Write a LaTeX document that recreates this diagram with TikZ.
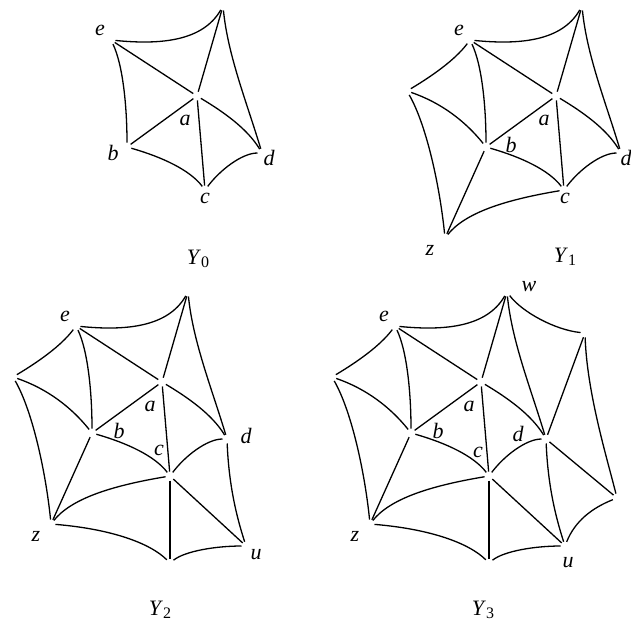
\documentclass[tikz,border=0pt]{standalone}
\usepackage{fontspec}
\setmainfont{Liberation Serif}
\usetikzlibrary{positioning}

% panel name with lowered subscript
\newcommand{\ysub}[1]{\textit{Y}\raisebox{-3pt}{\fontsize{16}{16}\selectfont #1}}

% vertices of the biggest complex (Y_1 frame, y points down)
\newcommand{\vertsY}{%
  \coordinate (T)  at (582,6);
  \coordinate (e)  at (470,40);
  \coordinate (a)  at (556,96);
  \coordinate (d)  at (621,153);
  \coordinate (b)  at (486,147);
  \coordinate (c)  at (564,190);
  \coordinate (L)  at (407,91);
  \coordinate (z)  at (445,238);
  \coordinate (u)  at (640,260);
  \coordinate (B)  at (564,277);
  \coordinate (R1) at (660,47);
  \coordinate (R2) at (692,212);
}
% star of a
\newcommand{\coreedges}{%
  \draw[cusp] (e) .. controls +(50,5) and +(-20,35) .. (T);
  \draw[cusp] (e) -- (a);
  \draw[cusp] (T) -- (a);
  \draw[cusp] (T) .. controls +(5,50) and +(-15,-50) .. (d);
  \draw[cusp] (a) .. controls +(25,15) and +(-15,-25) .. (d);
  \draw[cusp] (a) -- (c);
  \draw[cusp] (c) .. controls +(15,-20) and +(-20,0) .. (d);
  \draw[cusp] (e) .. controls +(12,25) and +(0,-40) .. (b);
  \draw[cusp] (a) -- (b);
  \draw[cusp] (b) .. controls +(35,10) and +(-15,-20) .. (c);
}
% star of b
\newcommand{\leftedges}{%
  \draw[cusp] (e) .. controls +(-15,20) and +(25,-15) .. (L);
  \draw[cusp] (L) .. controls +(35,12) and +(-20,-25) .. (b);
  \draw[cusp] (L) .. controls +(20,35) and +(-5,-50) .. (z);
  \draw[cusp] (b) -- (z);
  \draw[cusp] (z) .. controls +(20,-25) and +(-60,10) .. (c);
}
% star of c
\newcommand{\bottomedges}{%
  \draw[cusp] (d) .. controls +(2,50) and +(-8,-25) .. (u);
  \draw[cusp] (c) -- (u);
  \draw[cusp] (c) -- (B);
  \draw[cusp] (z) .. controls +(60,5) and +(-20,-20) .. (B);
  \draw[cusp] (B) .. controls +(15,-12) and +(-30,0) .. (u);
}
% star of d
\newcommand{\rightedges}{%
  \draw[cusp] (T) .. controls +(15,20) and +(-30,-3) .. (R1);
  \draw[cusp] (R1) -- (d);
  \draw[cusp] (R1) .. controls +(2,60) and +(-10,-40) .. (R2);
  \draw[cusp] (d) -- (R2);
  \draw[cusp] (u) .. controls +(10,-25) and +(-25,10) .. (R2);
}

\begin{document}
\begin{tikzpicture}[x=1pt, y=-1pt,
    cusp/.style={line width=1.3pt, shorten <=4.5pt, shorten >=4.5pt},
    lbl/.style={font=\fontsize{22}{26}\selectfont\itshape, inner sep=0pt},
    every node/.style={font=\fontsize{22}{26}\selectfont}]
  \useasboundingbox (0,0) rectangle (630,632);

  % Y_0
  \begin{scope}[shift={(-359,0)}, name prefix=p0-]
    \vertsY
    \coreedges
    \node[lbl] (le) at ([shift={(-11,-10)}]e) {e};
    \node[lbl] (la) at ([shift={(-12,24)}]a) {a};
    \node[lbl] (lb) at ([shift={(-14,6)}]b) {b};
    \node[lbl] (lc) at ([shift={(0,8)}]c) {c};
    \node[lbl] (ld) at ([shift={(7,5)}]d) {d};
  \end{scope}

  % Y_1
  \begin{scope}[name prefix=p1-]
    \vertsY
    \coreedges
    \leftedges
    \node[lbl] (le) at ([shift={(-11,-10)}]e) {e};
    \node[lbl] (la) at ([shift={(-12,24)}]a) {a};
    \node[lbl] (lb) at ([shift={(25,-2)}]b) {b};
    \node[lbl] (lc) at ([shift={(1,8)}]c) {c};
    \node[lbl] (ld) at ([shift={(5,5)}]d) {d};
    \node[lbl] (lz) at ([shift={(-15,12)}]z) {z};
  \end{scope}

  % Y_2
  \begin{scope}[shift={(-394,286)}, name prefix=p2-]
    \vertsY
    \coreedges
    \leftedges
    \bottomedges
    \node[lbl] (le) at ([shift={(-11,-10)}]e) {e};
    \node[lbl] (la) at ([shift={(-12,24)}]a) {a};
    \node[lbl] (lb) at ([shift={(27,-2)}]b) {b};
    \node[lbl] (lc) at ([shift={(-11,-26)}]c) {c};
    \node[lbl] (ld) at ([shift={(19,-3)}]d) {d};
    \node[lbl] (lz) at ([shift={(-15,12)}]z) {z};
    \node[lbl] (lu) at ([shift={(10,9)}]u) {u};
  \end{scope}

  % Y_3
  \begin{scope}[shift={(-75,286)}, name prefix=p3-]
    \vertsY
    \coreedges
    \leftedges
    \bottomedges
    \rightedges
    \node[lbl] (le) at ([shift={(-11,-10)}]e) {e};
    \node[lbl] (la) at ([shift={(-12,24)}]a) {a};
    \node[lbl] (lb) at ([shift={(27,-2)}]b) {b};
    \node[lbl] (lc) at ([shift={(-11,-24)}]c) {c};
    \node[lbl] (ld) at ([shift={(-28,-5)}]d) {d};
    \node[lbl] (lz) at ([shift={(-15,12)}]z) {z};
    \node[lbl] (lu) at ([shift={(3,17)}]u) {u};
    \node[lbl] (lw) at ([shift={(22,-5)}]T) {w};
  \end{scope}

  % panel names
  \node (y0) at (198,259) {\ysub{0}};
  \node (y1) at (565,257) {\ysub{1}};
  \node (y2) at (160,610) {\ysub{2}};
  \node (y3) at (483,610) {\ysub{3}};
\end{tikzpicture}
\end{document}
